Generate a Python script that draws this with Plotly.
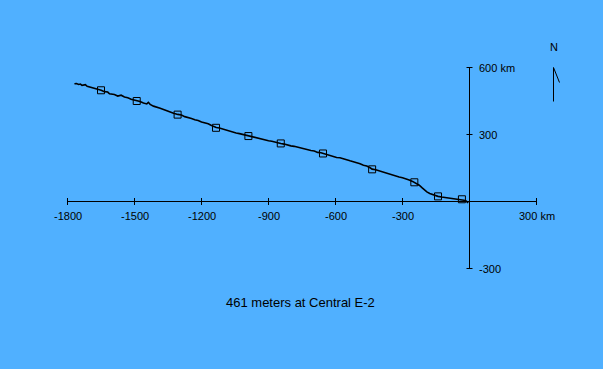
import plotly.graph_objects as go

# ---- data (km) ----
track_x = [-1769, -1760, -1750, -1742, -1735, -1720, -1712, -1705, -1690, -1675, -1660, -1649, -1635, -1620, -1612, -1605,
           -1590, -1575, -1560, -1545, -1530, -1515, -1500, -1489, -1475, -1460, -1445, -1438, -1430,
           -1415, -1400, -1385, -1370, -1355, -1340, -1325, -1306, -1290, -1275, -1260, -1245,
           -1230, -1215, -1200, -1185, -1170, -1155, -1134, -1120, -1105, -1090, -1075, -1060,
           -1045, -1030, -1015, -1000, -990, -975, -960, -945, -930, -915, -900, -885, -870,
           -855, -845, -830, -815, -800, -785, -770, -755, -740, -725, -710, -695, -680, -665,
           -656, -640, -625, -610, -595, -580, -565, -550, -535, -520, -505, -490, -475, -460,
           -445, -436, -420, -405, -390, -375, -360, -345, -330, -315, -300, -285, -270, -255,
           -246, -235, -225, -213, -203, -191, -178, -165, -152, -141, -125, -110, -95, -80,
           -65, -50, -34, -25, -15, -6]
track_y = [527, 528, 524, 526, 520, 523, 516, 514, 511, 504, 503, 498, 492, 490, 482, 481,
           479, 472, 476, 468, 465, 458, 455, 452, 448, 441, 437, 444, 435,
           427, 424, 418, 412, 406, 402, 395, 390, 387, 380, 377, 372,
           366, 363, 356, 352, 348, 340, 331, 329, 324, 319, 315, 312,
           307, 304, 300, 296, 294, 291, 285, 282, 279, 276, 272, 270, 265,
           263, 260, 257, 252, 249, 247, 243, 238, 236, 232, 228, 226, 220, 218,
           215, 210, 205, 202, 197, 196, 190, 187, 182, 178, 175, 169, 162, 159,
           151, 145, 142, 137, 134, 129, 123, 119, 115, 110, 106, 102, 96, 90,
           85, 80, 73, 62, 52, 43, 36, 31, 27, 23, 20, 18, 17, 15,
           14, 12, 10, 6, 2, -6]

mark_x = [-1650, -1490, -1307, -1135, -990, -845, -656, -436, -247, -141, -34]
mark_y = [498, 450, 389, 330, 293, 260, 215, 144, 86, 23, 10]

x_ticks = [-1800, -1500, -1200, -900, -600, -300, 300]
x_tick_labels = ["-1800", "-1500", "-1200", "-900", "-600", "-300", "300 km"]
y_ticks = [600, 300, -300]
y_tick_labels = ["600 km", "300", "-300"]

title_text = "461 meters at Central E-2"
north_label = "N"

# ---- styling ----
BG = "#50B0FF"
FONT = "Liberation Sans, Arial, sans-serif"
W, H = 603, 369
px_per_km = 469 / 2100.0
x0_px, y0_px = 67.5, 67.5   # pixel of x=-1800, y=600
x_range = [-1800 - x0_px / px_per_km, -1800 + (W - x0_px) / px_per_km]
y_range = [600 - (H - y0_px) / px_per_km, 600 + y0_px / px_per_km]

fig = go.Figure()

fig.add_trace(go.Scatter(x=track_x, y=track_y, mode="lines",
                         line=dict(color="black", width=1.6), hoverinfo="skip"))
fig.add_trace(go.Scatter(x=mark_x, y=mark_y, mode="markers",
                         marker=dict(symbol="square-open", size=7, color="black",
                                     line=dict(width=1, color="black")),
                         hoverinfo="skip"))

shapes = []
shapes.append(dict(type="line", xref="x", yref="y", x0=min(x_ticks), x1=max(x_ticks), y0=0, y1=0,
                   line=dict(color="black", width=1)))
shapes.append(dict(type="line", xref="x", yref="y", x0=0, x1=0, y0=min(y_ticks), y1=max(y_ticks),
                   line=dict(color="black", width=1)))
tx = 3.5 / px_per_km
for xv in x_ticks:
    shapes.append(dict(type="line", xref="x", yref="y", x0=xv, x1=xv, y0=-tx, y1=tx,
                       line=dict(color="black", width=1)))
ty = 3 / px_per_km
for yv in y_ticks:
    shapes.append(dict(type="line", xref="x", yref="y", x0=-ty, x1=ty, y0=yv, y1=yv,
                       line=dict(color="black", width=1)))
# north arrow
nx = 84 / px_per_km
shapes.append(dict(type="line", xref="x", yref="y", x0=nx, x1=nx, y0=600, y1=600 - 34 / px_per_km,
                   line=dict(color="black", width=1)))
shapes.append(dict(type="line", xref="x", yref="y", x0=nx, x1=nx + 6 / px_per_km, y0=600,
                   y1=600 - 15 / px_per_km, line=dict(color="black", width=1)))

annotations = []
lab_y = -(216 - 201.5) / px_per_km
for xv, t in zip(x_ticks, x_tick_labels):
    annotations.append(dict(x=xv, y=lab_y, xref="x", yref="y", text=t, showarrow=False,
                            xanchor="center", yanchor="middle",
                            font=dict(family=FONT, size=11, color="black")))
for yv, t in zip(y_ticks, y_tick_labels):
    annotations.append(dict(x=7 / px_per_km, y=yv, xref="x", yref="y", text=t, showarrow=False,
                            xanchor="left", yanchor="middle",
                            font=dict(family=FONT, size=11, color="black")))
annotations.append(dict(x=nx, y=600 + 21 / px_per_km, xref="x", yref="y", text=north_label,
                        showarrow=False, xanchor="center", yanchor="middle",
                        font=dict(family=FONT, size=11, color="black")))
annotations.append(dict(x=300.5 / W, y=1 - 302.5 / H, xref="paper", yref="paper", text=title_text,
                        showarrow=False, xanchor="center", yanchor="middle",
                        font=dict(family=FONT, size=13, color="black")))

fig.update_layout(
    width=W, height=H, autosize=False,
    margin=dict(l=0, r=0, t=0, b=0, pad=0),
    paper_bgcolor=BG, plot_bgcolor=BG,
    showlegend=False,
    xaxis=dict(range=x_range, visible=False, fixedrange=True),
    yaxis=dict(range=y_range, visible=False, fixedrange=True),
    shapes=shapes, annotations=annotations,
)

fig.write_html("out.html", config=dict(displayModeBar=False, staticPlot=True),
               post_script="document.body.style.margin='0';document.body.style.padding='0';"
                           "document.body.style.background='" + BG + "';"
                           "document.documentElement.style.overflow='hidden';")
